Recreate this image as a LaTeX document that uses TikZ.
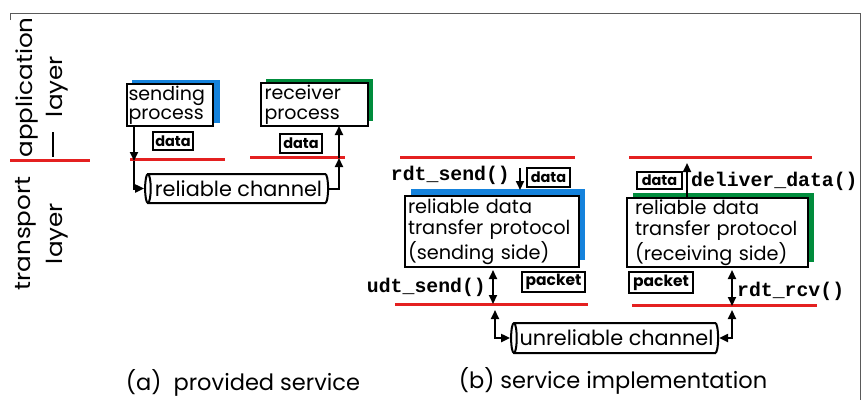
\documentclass[tikz,border=0pt]{standalone}
\usepackage{fontspec}
\setmainfont{Poppins}
\setmonofont{Liberation Mono}
\newfontfamily\widefont{Poppins}[FakeStretch=1.12]
\usetikzlibrary{arrows.meta,shapes.geometric,calc}
\definecolor{lred}{RGB}{228,32,32}
\definecolor{sblue}{RGB}{20,130,220}
\definecolor{sgreen}{RGB}{0,140,60}
\definecolor{frame}{RGB}{90,90,90}
\tikzset{
  layerline/.style={draw=lred,line width=3pt},
  procbox/.style={draw=black,fill=white,line width=2.5pt,rectangle,inner sep=0pt,align=left,font=\fontsize{19}{19.5}\selectfont},
  tagbox/.style={draw=black,fill=white,line width=2pt,rectangle,inner sep=0pt,font=\bfseries\fontsize{14.5}{15}\selectfont},
  chan/.style={draw=black,fill=white,line width=2pt,cylinder,shape border rotate=180,aspect=0.35,inner sep=0pt,font=\fontsize{20.8}{21}\selectfont},
  conn/.style={line width=2pt,-{Triangle[length=9pt,width=8pt]}},
  dconn/.style={line width=2pt,{Triangle[length=9pt,width=8pt]}-{Triangle[length=9pt,width=8pt]}},
  fname/.style={font=\ttfamily\bfseries\fontsize{19.8}{21}\selectfont,inner sep=0pt},
  layertxt/.style={rotate=90,font=\widefont\fontsize{22}{23}\selectfont,inner sep=0pt},
  caption/.style={font=\fontsize{22.5}{23}\selectfont,inner sep=0pt}
}
\begin{document}
\begin{tikzpicture}[x=1pt,y=-1pt]
\useasboundingbox (0,0) rectangle (861,400);
% frame
\draw[frame,line width=1pt] (10,20) -- (10,13) -- (860,13) -- (860,400);
% layer labels
\node[layertxt] (app) at (27,87.5) {application};
\node[layertxt] (appl) at (57,86.5) {layer};
\node[layertxt] (tra) at (26,233.5) {transport};
\node[layertxt] (tral) at (57,233.5) {layer};
\draw[line width=1.3pt] (53,132) -- (53,157);
% red lines
\draw[layerline] (10,160) -- (90,160);
\draw[layerline] (130,159) -- (225,159);
\draw[layerline] (250,157) -- (345,157);
\draw[layerline] (400,157) -- (575,157);
\draw[layerline] (629,157) -- (812,157);
\draw[layerline] (395,304) -- (588,304);
\draw[layerline] (632,305) -- (817,305);

% ---- panel (a)
\fill[sblue] (132,80) rectangle (220,123);
\node[procbox,minimum width=86pt,minimum height=42pt,text width=83pt] (sp) at (170,105) {sending\\process};
\fill[sgreen] (266,79) rectangle (373,121);
\node[procbox,minimum width=107pt,minimum height=43pt,text width=100pt] (rp) at (314.5,104.5) {receiver\\process};
\node[tagbox,minimum width=40pt,minimum height=18pt] (sd) at (173,141) {data};
\node[tagbox,minimum width=42pt,minimum height=19pt] (rd) at (301,143) {data};
\node[chan,minimum height=183pt,minimum width=29pt] (cha) at (238.5,188.5) {reliable channel};
\coordinate (sa1) at (134,126);
\coordinate (sa2) at (134,161);
\coordinate (ra1) at (339,158);
\coordinate (ra2) at (339,126);
\draw[conn] (sa1) -- (sa2);
\draw[conn] (sa2) |- (cha.west);
\draw[conn] (cha.east) -| (ra1);
\draw[conn] (ra1) -- (ra2);
\node[caption] (capa) at (243,383) {(a)\ \ provided service};

% ---- panel (b)
\fill[sblue] (411,189) rectangle (585,260);
\node[procbox,minimum width=174pt,minimum height=71pt,text width=168pt,font=\fontsize{19.3}{21.5}\selectfont] (rs) at (492,231.5) {reliable data\\transfer protocol\\(sending side)};
\fill[sgreen] (633,193) rectangle (814,262);
\node[procbox,minimum width=181pt,minimum height=69pt,text width=165pt,font=\fontsize{19.3}{21.5}\selectfont] (rr) at (717.5,232.5) {reliable data\\transfer protocol\\(receiving side)};
\node[fname,anchor=east] (rdts) at (510,175) {rdt\_send()};
\node[tagbox,minimum width=43pt,minimum height=19pt] (bd1) at (548.5,177) {data};
\node[tagbox,minimum width=45pt,minimum height=17pt] (bd2) at (659.5,180.5) {data};
\node[fname,anchor=west] (deliv) at (691,181) {deliver\_data()};
\node[fname,anchor=east] (udts) at (486,287) {udt\_send()};
\node[tagbox,minimum width=63pt,minimum height=20pt,font=\bfseries\fontsize{15.5}{16}\selectfont] (bp1) at (553.5,282) {packet};
\node[tagbox,minimum width=64pt,minimum height=21pt,font=\bfseries\fontsize{15.5}{16}\selectfont] (bp2) at (661,282.5) {packet};
\node[fname,anchor=west] (rdtr) at (737,291) {rdt\_rcv()};
\node[chan,minimum height=207pt,minimum width=30pt] (chb) at (616.5,338) {unreliable channel};
\coordinate (b1t) at (520,168);
\coordinate (b1b) at (520,190);
\coordinate (b2b) at (687,197);
\coordinate (b2t) at (687,163);
\coordinate (u1) at (493,270);
\coordinate (u2) at (493,304);
\coordinate (r1) at (732,270);
\coordinate (r2) at (732,306);
\coordinate (cl) at (495,310);
\coordinate (cr) at (732,310);
\draw[conn] (b1t) -- (b1b);
\draw[conn] (b2b) -- (b2t);
\draw[dconn] (u1) -- (u2);
\draw[dconn] (r1) -- (r2);
\draw[dconn] (cl) |- (chb.west);
\draw[dconn] (chb.east) -| (cr);
\node[caption] (capb) at (613,381) {(b) service implementation};
\end{tikzpicture}
\end{document}
